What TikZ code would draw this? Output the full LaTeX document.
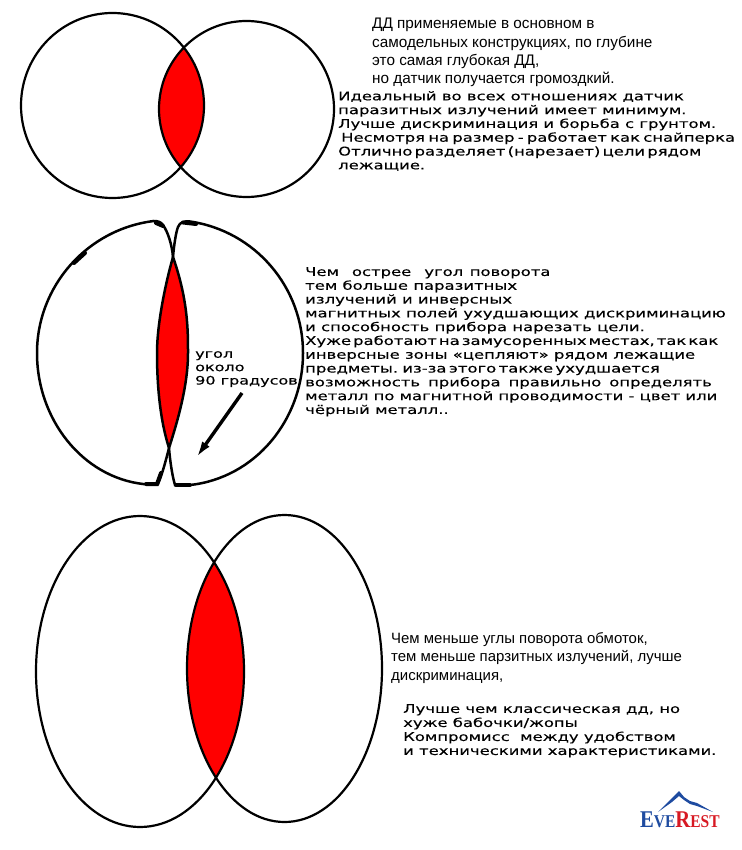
\documentclass[tikz,border=0pt]{standalone}
\usetikzlibrary{arrows.meta}
\usepackage{fontspec}
\setmainfont{Liberation Sans}
\newfontfamily\widefont[FakeStretch=1.37,FakeBold=0.3]{DejaVu Sans}
\newfontfamily\logofont[FakeStretch=0.86]{Liberation Serif}
\definecolor{lensred}{RGB}{255,0,0}
\definecolor{logoblue}{RGB}{30,75,160}
\definecolor{logored}{RGB}{215,25,35}
\tikzset{
  x=1pt,y=-1pt,
  coil/.style={draw=black,line width=2.2pt},
  midcoil/.style={draw=black,line width=2.5pt},
  knot/.style={draw=black,line width=4pt,line cap=round},
  thinblock/.style={anchor=north west,inner sep=0pt,align=left,font=\fontsize{15.3}{18.3}\selectfont},
  wideblock/.style={anchor=north west,inner sep=0pt,align=left,font=\widefont\fontsize{12}{13.8}\selectfont},
  plainblock/.style={anchor=north west,inner sep=0pt,align=left,font=\fontsize{14.95}{18.5}\selectfont},
}
\begin{document}
\begin{tikzpicture}
\useasboundingbox (0,0) rectangle (741,850);
% top figure
\begin{scope}
\clip (112.5,105.5) ellipse [x radius=91.5,y radius=92.5];
\fill[lensred] (246.5,109) ellipse [x radius=87.5,y radius=88];
\end{scope}
\draw[coil] (112.5,105.5) ellipse [x radius=91.5,y radius=92.5];
\draw[coil] (246.5,109) ellipse [x radius=87.5,y radius=88];
% middle figure
\fill[lensred] (173,257) .. controls (188,300) and (188,330) .. (188,353) .. controls (188,385) and (178,420) .. (169,448) .. controls (160,420) and (157,385) .. (157,353) .. controls (157,325) and (165,285) .. (173,257) -- cycle;
\draw[midcoil] (173,257) .. controls (172,245) and (168,232) .. (163,225) .. controls (161,222) and (158,221) .. (153.8,221)
  .. controls (87.3,229.2) and (37,286) .. (37,353) .. controls (37,420) and (83,477) .. (143,484) -- (158,484)
  .. controls (162,475) and (166,460) .. (169,448) .. controls (178,420) and (188,385) .. (188,353) .. controls (188,330) and (188,300) .. (173,257);
\draw[midcoil] (173,257) .. controls (174,245) and (176,232) .. (178,227) .. controls (180,222) and (184,221) .. (190,221.5)
  .. controls (255,231) and (303,287) .. (303,353) .. controls (303,420) and (255,478) .. (190,485) -- (175,485)
  .. controls (172,475) and (170,460) .. (169,448) .. controls (160,420) and (157,385) .. (157,353) .. controls (157,325) and (165,285) .. (173,257);
\draw[knot] (74,263) -- (85,253);
\draw[knot] (156,223) -- (163,226);
\draw[knot] (183,222.5) -- (196,224);
\draw[knot] (146,484) -- (157,484) -- (161,473);
\draw[knot] (176,485) -- (190,485);
\node[wideblock,font=\widefont\fontsize{11.7}{13.4}\selectfont] (anglelabel) at (195,351) {угол\\около\\90 градусов};
\coordinate (arrowstart) at (242,393);
\coordinate (arrowend) at (196,458);
\draw[-{Latex[length=17pt,width=9pt]},line width=3.4pt] (arrowstart) -- (arrowend);
% bottom figure
\begin{scope}
\clip (140,671.5) ellipse [x radius=104,y radius=155.5];
\fill[lensred] (284.5,668.5) ellipse [x radius=97.5,y radius=153.5];
\end{scope}
\draw[coil] (140,671.5) ellipse [x radius=104,y radius=155.5];
\draw[coil] (284.5,668.5) ellipse [x radius=97.5,y radius=153.5];
% texts
\node[thinblock] (toptext) at (372,18) {ДД применяемые в основном в\\самодельных конструкциях, по глубине\\это самая глубокая ДД,\\но датчик получается громоздкий.};
\node[wideblock] (idealtext) at (338,91) {Идеальный во всех отношениях датчик\\паразитных излучений имеет минимум.\\Лучше дискриминация и борьба с грунтом.\\\hspace*{3pt}{\spaceskip=3.2pt Несмотря на размер - работает как снайперка}\\{\spaceskip=2.2pt Отлично разделяет (нарезает) цели рядом}\\лежащие.};
\node[wideblock] (sharptext) at (305,267) {{\spaceskip=6.5pt Чем\ \ острее\ \ угол поворота}\\тем больше паразитных\\излучений и инверсных\\магнитных полей ухудшающих дискриминацию\\и способность прибора нарезать цели.\\{\spaceskip=2pt Хуже работают на замусоренных местах, так как}\\инверсные зоны «цепляют» рядом лежащие\\{\spaceskip=2.4pt предметы. из-за этого также ухудшается}\\{\spaceskip=8pt возможность прибора правильно определять}\\металл по магнитной проводимости - цвет или\\чёрный металл..};
\node[plainblock] (lesstext) at (391,632) {Чем меньше углы поворота обмоток,\\тем меньше парзитных излучений, лучше\\дискриминация,};
\node[wideblock,font=\widefont\fontsize{12}{14}\selectfont] (bettertext) at (403,704) {Лучше чем классическая дд, но\\хуже бабочки/жопы\\Компромисс\ \ между удобством\\и техническими характеристиками.};
% logo
\fill[logoblue] (658,812) -- (679,791) -- (684,797) -- (690,801) -- (697,803) -- (713,812) -- (697,806) -- (690,804) -- (684,800) -- (679,796) -- (672,802) -- cycle;
\node[anchor=base west,inner sep=0pt,font=\logofont\bfseries\fontsize{24}{24}\selectfont] (logotext) at (640,827) {\textcolor{logoblue}{E\fontsize{18}{18}\selectfont VE}\textcolor{logored}{\fontsize{24}{24}\selectfont R\fontsize{18}{18}\selectfont EST}};
\end{tikzpicture}
\end{document}
